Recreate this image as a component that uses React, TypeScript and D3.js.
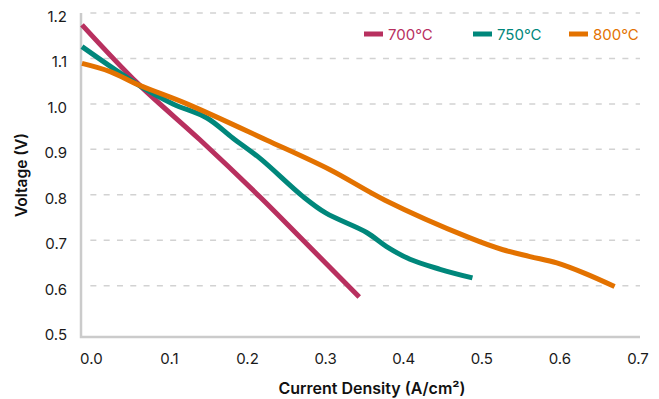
import { useEffect, useRef } from 'react'
import * as d3 from 'd3'

// values (current density A/cm², voltage V)
const seriesNames = ['700°C', '750°C', '800°C']
const seriesColors = ['#B8305F', '#00877B', '#E37200']

const current700 = [-0.012, 0.06, 0.139, 0.216, 0.267, 0.343]
const voltage700 = [1.174, 1.044, 0.921, 0.795, 0.707, 0.575]

const current750 = [-0.012, 0.06, 0.1045, 0.148, 0.181, 0.216, 0.271, 0.3, 0.3525, 0.378, 0.408, 0.4465, 0.488]
const voltage750 = [1.126, 1.042, 1.0, 0.969, 0.925, 0.88, 0.796, 0.76, 0.717, 0.686, 0.658, 0.636, 0.617]

const current800 = [-0.012, 0.024, 0.06, 0.1224, 0.2248, 0.3056, 0.376, 0.4848, 0.527, 0.5616, 0.596, 0.632, 0.67]
const voltage800 = [1.089, 1.071, 1.042, 1.0, 0.92, 0.855, 0.788, 0.705, 0.679, 0.664, 0.65, 0.627, 0.598]

const xTicks = [0, 0.1, 0.2, 0.3, 0.4, 0.5, 0.6, 0.7]
const yTicks = [0.5, 0.6, 0.7, 0.8, 0.9, 1.0, 1.1, 1.2]
const gridTicks = [0.6, 0.7, 0.8, 0.9, 1.0, 1.1, 1.2]

export default function App() {
    const svgRef = useRef<SVGSVGElement>(null)

    useEffect(() => {
        if (!svgRef.current) return
        const width = 659
        const height = 399
        const font = 'Inter, "Noto Sans", sans-serif'

        const x = d3.scaleLinear().domain([-0.012, 0.7]).range([82, 638])
        const y = d3.scaleLinear().domain([0.487, 1.2]).range([337, 13])

        const series = [
            { name: seriesNames[0], color: seriesColors[0], pts: current700.map((c, i) => [c, voltage700[i]]) },
            { name: seriesNames[1], color: seriesColors[1], pts: current750.map((c, i) => [c, voltage750[i]]) },
            { name: seriesNames[2], color: seriesColors[2], pts: current800.map((c, i) => [c, voltage800[i]]) },
        ]

        const svg = d3.select(svgRef.current)
        svg.selectAll('*').remove()
        svg.attr('width', width).attr('height', height)

        // dashed grid
        svg.append('g')
            .selectAll('line')
            .data(gridTicks)
            .join('line')
            .attr('x1', x(0) - 1)
            .attr('x2', 640)
            .attr('y1', (d) => y(d))
            .attr('y2', (d) => y(d))
            .attr('stroke', '#d2d2d2')
            .attr('stroke-width', 1.5)
            .attr('stroke-dasharray', '6,7.3')

        // axis frame (left + bottom)
        svg.append('path')
            .attr('d', `M${x.range()[0] - 1},${y(1.2)}V${y.range()[0]}H640`)
            .attr('fill', 'none')
            .attr('stroke', '#cbcbcb')
            .attr('stroke-width', 2.5)

        // y tick labels
        svg.append('g')
            .selectAll('text')
            .data(yTicks)
            .join('text')
            .attr('x', 67)
            .attr('y', (d) => y(d) + 9)
            .attr('text-anchor', 'end')
            .style('font-family', font)
            .style('font-size', '15px')
            .style('fill', '#1a1a1a')
            .text((d) => d.toFixed(1))

        // x tick labels
        svg.append('g')
            .selectAll('text')
            .data(xTicks)
            .join('text')
            .attr('x', (d) => x(d))
            .attr('y', 363.5)
            .attr('text-anchor', 'middle')
            .style('font-family', font)
            .style('font-size', '15px')
            .style('fill', '#1a1a1a')
            .text((d) => d.toFixed(1))

        // axis titles
        svg.append('text')
            .attr('x', 372)
            .attr('y', 394)
            .attr('text-anchor', 'middle')
            .style('font-family', font)
            .style('font-weight', '600')
            .style('font-size', '16px')
            .style('fill', '#111')
            .text('Current Density (A/cm²)')
        svg.append('text')
            .attr('transform', 'translate(27,175) rotate(-90)')
            .attr('text-anchor', 'middle')
            .style('font-family', font)
            .style('font-weight', '600')
            .style('font-size', '15.5px')
            .style('fill', '#111')
            .text('Voltage (V)')

        // curves
        const line = d3.line<number[]>()
            .x((d) => x(d[0]))
            .y((d) => y(d[1]))
            .curve(d3.curveCatmullRom.alpha(0.5))
        svg.append('g')
            .selectAll('path')
            .data(series)
            .join('path')
            .attr('d', (d) => line(d.pts))
            .attr('fill', 'none')
            .attr('stroke', (d) => d.color)
            .attr('stroke-width', 5)

        // legend
        const legendX = [364, 473, 569]
        const legend = svg.append('g')
            .selectAll('g')
            .data(series)
            .join('g')
            .attr('transform', (d, i) => `translate(${legendX[i]},34)`)
        legend.append('rect')
            .attr('x', 0)
            .attr('y', -2.5)
            .attr('width', 19)
            .attr('height', 5)
            .attr('fill', (d) => d.color)
        legend.append('text')
            .attr('x', 24)
            .attr('y', 5.5)
            .style('font-family', font)
            .style('font-size', '15px')
            .style('fill', (d) => d.color)
            .text((d) => d.name)
    }, [])

    return (
        <div style={{ position: 'absolute', left: 0, top: 0 }}>
            <svg ref={svgRef} style={{ display: 'block' }}></svg>
        </div>
    )
}
